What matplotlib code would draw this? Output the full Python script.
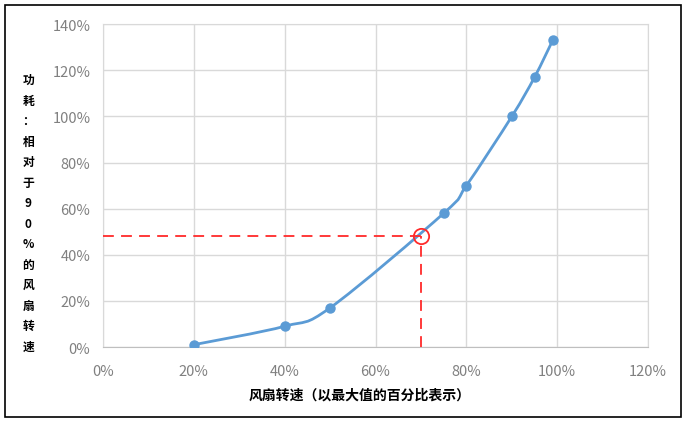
import numpy as np
import matplotlib
matplotlib.use('Agg')
import matplotlib.pyplot as plt
from matplotlib.path import Path
import matplotlib.patches as mpatches
from matplotlib.ticker import PercentFormatter

plt.rcParams['font.family'] = ['Noto Sans CJK SC', 'DejaVu Sans']

# fan speed (% of max) vs power (% relative to 90% speed)
speed = [20, 40, 50, 75, 80, 90, 95, 99]
power = [1, 9, 17, 58, 70, 100, 117, 133]
mark_speed = 70
mark_power = 48

ylabel_text = '功耗：相对于90%的风扇转速'
xlabel_text = '风扇转速（以最大值的百分比表示）'

blue = '#5b9bd5'
red = '#ff2a2a'


def smooth_path(xs, ys, tension=1.0 / 6):
    # catmull-rom style bezier through the points (like excel smoothed lines)
    pts = np.column_stack([xs, ys]).astype(float)
    verts = [pts[0]]
    codes = [Path.MOVETO]
    n = len(pts)
    for i in range(n - 1):
        p0 = pts[i - 1] if i > 0 else pts[i]
        p1 = pts[i]
        p2 = pts[i + 1]
        p3 = pts[i + 2] if i + 2 < n else pts[i + 1]
        c1 = p1 + (p2 - p0) * tension
        c2 = p2 - (p3 - p1) * tension
        verts += [c1, c2, p2]
        codes += [Path.CURVE4] * 3
    return Path(verts, codes)


fig = plt.figure(figsize=(6.88, 4.27), dpi=100)
ax = fig.add_axes([0.1497, 0.185, 0.7923, 0.756])

ax.add_patch(mpatches.PathPatch(smooth_path(speed, power), fill=False,
                                edgecolor=blue, lw=2, zorder=3))
ax.plot(speed, power, 'o', color=blue, ms=6.5, zorder=4)

# red guide lines to the 70% point
ax.plot([0, mark_speed], [mark_power, mark_power], color=red, lw=1.3,
        dashes=(6, 4), zorder=5)
ax.plot([mark_speed, mark_speed], [0, mark_power], color=red, lw=1.3,
        dashes=(6, 4), zorder=5)
ax.plot([mark_speed], [mark_power], 'o', mfc='none', mec=red, ms=11,
        mew=1.3, zorder=6)

ax.set_xlim(0, 120)
ax.set_ylim(0, 140)
ax.set_xticks(np.arange(0, 121, 20))
ax.set_yticks(np.arange(0, 141, 20))
ax.xaxis.set_major_formatter(PercentFormatter(decimals=0))
ax.yaxis.set_major_formatter(PercentFormatter(decimals=0))
ax.grid(True, color='#d9d9d9', lw=1)
ax.set_axisbelow(True)
for s in ax.spines.values():
    s.set_color('#d9d9d9')
ax.spines['bottom'].set_color('#bfbfbf')
ax.tick_params(length=0, labelsize=10.5, labelcolor='#808080', pad=9)
ax.tick_params(axis='x', pad=12)

fig.text(0.523, 0.073, xlabel_text, fontsize=10, ha='center', va='center',
         fontweight='bold')
fig.text(0.041, 0.499, '\n'.join(ylabel_text), fontsize=8.5, ha='center',
         va='center', linespacing=1.75, fontweight='bold')

# outer frame
fig.patches.append(mpatches.Rectangle((5 / 688, 9 / 427), 676 / 688, 412 / 427,
                                      transform=fig.transFigure, fill=False,
                                      edgecolor='black', lw=1.2))

fig.savefig('out.png', dpi=100)
